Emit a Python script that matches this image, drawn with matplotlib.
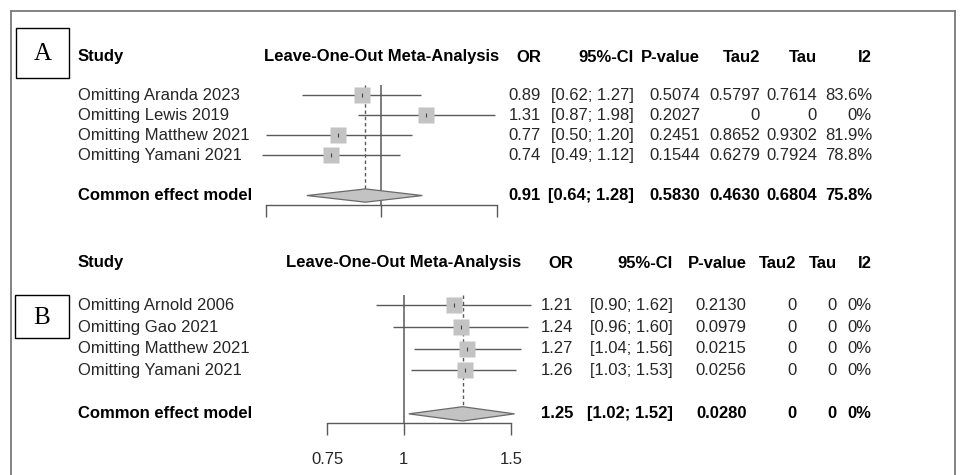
import matplotlib
matplotlib.use('Agg')
import matplotlib.pyplot as plt
from matplotlib.lines import Line2D
from matplotlib.patches import Rectangle, Polygon
import numpy as np

# ---- data, panel A ----
a_study = ["Omitting Aranda 2023", "Omitting Lewis 2019", "Omitting Matthew 2021", "Omitting Yamani 2021"]
a_or = [0.89, 1.31, 0.77, 0.74]
a_lo = [0.62, 0.87, 0.50, 0.49]
a_hi = [1.27, 1.98, 1.20, 1.12]
a_p = ["0.5074", "0.2027", "0.2451", "0.1544"]
a_tau2 = ["0.5797", "0", "0.8652", "0.6279"]
a_tau = ["0.7614", "0", "0.9302", "0.7924"]
a_i2 = ["83.6%", "0%", "81.9%", "78.8%"]
a_common = [0.91, 0.64, 1.28]
a_common_txt = ["0.5830", "0.4630", "0.6804", "75.8%"]
a_ticks = [0.5, 1, 2]

# ---- data, panel B ----
b_study = ["Omitting Arnold 2006", "Omitting Gao 2021", "Omitting Matthew 2021", "Omitting Yamani 2021"]
b_or = [1.21, 1.24, 1.27, 1.26]
b_lo = [0.90, 0.96, 1.04, 1.03]
b_hi = [1.62, 1.60, 1.56, 1.53]
b_p = ["0.2130", "0.0979", "0.0215", "0.0256"]
b_tau2 = ["0", "0", "0", "0"]
b_tau = ["0", "0", "0", "0"]
b_i2 = ["0%", "0%", "0%", "0%"]
b_common = [1.25, 1.02, 1.52]
b_common_txt = ["0.0280", "0", "0", "0%"]
b_ticks = [0.75, 1, 1.5]
b_ticklabels = ["0.75", "1", "1.5"]

W, H = 960, 475
plt.rcParams['font.family'] = ['Liberation Sans', 'DejaVu Sans']
fig = plt.figure(figsize=(W / 100, H / 100), dpi=100)

def fx(x):
    return x / W

def fy(y):
    return 1 - y / H

FS = 12
TXT = '#262626'
LN = '#5a5a5a'


def panel(study, est, lo, hi, p, tau2, tau, i2, common, common_txt, ticks,
          x0, x1, y_top, y_axis, y_head, row_h, cols, sq, ticklabels=None):
    # forest part, log scale
    ax = fig.add_axes([fx(x0), fy(y_axis), fx(x1) - fx(x0), (y_axis - y_top) / H])
    ax.set_xscale('log')
    ax.set_xlim(ticks[0], ticks[-1])
    ax.set_ylim(0.5 + (y_axis - y_top) / row_h, 0.5)
    for s in ['top', 'left', 'right']:
        ax.spines[s].set_visible(False)
    ax.spines['bottom'].set_color(LN)
    ax.spines['bottom'].set_linewidth(1.0)
    ax.set_yticks([])
    ax.set_xticks(ticks)
    ax.xaxis.set_minor_locator(matplotlib.ticker.NullLocator())
    ax.tick_params(axis='x', direction='out', length=8.5, width=1.0, color=LN,
                   labelsize=FS, labelcolor=TXT, pad=12)
    if ticklabels is None:
        ax.set_xticklabels([])
    else:
        ax.set_xticklabels(ticklabels)
    ax.patch.set_alpha(0)

    rows = np.arange(1, len(est) + 1)
    crow = len(est) + 2
    ax.axvline(1, color=LN, lw=1.1, zorder=1)
    ax.plot([common[0], common[0]], [0.5, crow - 0.33], color=LN, lw=1.0,
            ls=(0, (2.5, 2)), zorder=1)
    ax.hlines(rows, lo, hi, color=LN, lw=1.0, zorder=2, clip_on=False)
    ax.plot(est, rows, 's', ms=sq, color='#c3c3c3', mec='none', zorder=3, clip_on=False)
    ax.plot(est, rows, '|', ms=3, color='#444444', mew=0.8, zorder=4, clip_on=False)
    dia = Polygon([(common[1], crow), (common[0], crow - 0.33), (common[2], crow),
                   (common[0], crow + 0.33)], closed=True, fc='#c3c3c3',
                  ec='#6a6a6a', lw=0.9, zorder=3, clip_on=False)
    ax.add_patch(dia)

    # table text
    ys = [y_top + (r - 0.5) * row_h for r in rows]
    yc = y_top + (crow - 0.5) * row_h
    # forest heading is centred on the no-effect line
    xnull = x0 + (x1 - x0) * np.log(1 / ticks[0]) / np.log(ticks[-1] / ticks[0])
    fig.text(fx(78), fy(y_head), "Study", fontsize=FS, weight='bold', va='center')
    fig.text(fx(xnull), fy(y_head), "Leave-One-Out Meta-Analysis",
             fontsize=FS, weight='bold', va='center', ha='center')
    heads = ["OR", "95%-CI", "P-value", "Tau2", "Tau", "I2"]
    for h, c in zip(heads, cols):
        fig.text(fx(c), fy(y_head), h, fontsize=FS, weight='bold', va='center', ha='right')
    for i in range(len(est)):
        fig.text(fx(78), fy(ys[i]), study[i], fontsize=FS, color=TXT, va='center')
        vals = ["%.2f" % est[i], "[%.2f; %.2f]" % (lo[i], hi[i]), p[i], tau2[i], tau[i], i2[i]]
        for v, c in zip(vals, cols):
            fig.text(fx(c), fy(ys[i]), v, fontsize=FS, color=TXT, va='center', ha='right')
    fig.text(fx(78), fy(yc), "Common effect model", fontsize=FS, weight='bold', va='center')
    vals = ["%.2f" % common[0], "[%.2f; %.2f]" % (common[1], common[2])] + common_txt
    for v, c in zip(vals, cols):
        fig.text(fx(c), fy(yc), v, fontsize=FS, weight='bold', va='center', ha='right')
    return ax


panel(a_study, a_or, a_lo, a_hi, a_p, a_tau2, a_tau, a_i2, a_common, a_common_txt, a_ticks,
      265.7, 496.7, 85, 205, 57, 20.1, [541, 634, 700, 760, 817, 872], 11)
panel(b_study, b_or, b_lo, b_hi, b_p, b_tau2, b_tau, b_i2, b_common, b_common_txt, b_ticks,
      327.3, 511, 294.5, 423.3, 263, 21.7, [573, 673, 746.5, 796.5, 837, 871.5], 11.8,
      ticklabels=b_ticklabels)

# outer frame
frame = dict(color='#7a7a7a', lw=1.3, transform=fig.transFigure)
fig.add_artist(Line2D([fx(11), fx(11)], [fy(11), fy(480)], **frame))
fig.add_artist(Line2D([fx(11), fx(955)], [fy(11), fy(11)], **frame))
fig.add_artist(Line2D([fx(955), fx(955)], [fy(11), fy(480)], **frame))

# panel labels
for lab, (bx, by0, by1) in zip(["A", "B"], [(16, 28, 78), (14.5, 295, 338)]):
    fig.add_artist(Rectangle((fx(bx), fy(by1)), fx(69.3) - fx(bx), (by1 - by0) / H,
                             fill=False, ec='black', lw=1.0, transform=fig.transFigure))
    fig.text(fx((bx + 69.3) / 2), fy((by0 + by1) / 2 + 1), lab, family='Liberation Serif',
             fontsize=18, ha='center', va='center')

fig.savefig('out.png', dpi=100)
